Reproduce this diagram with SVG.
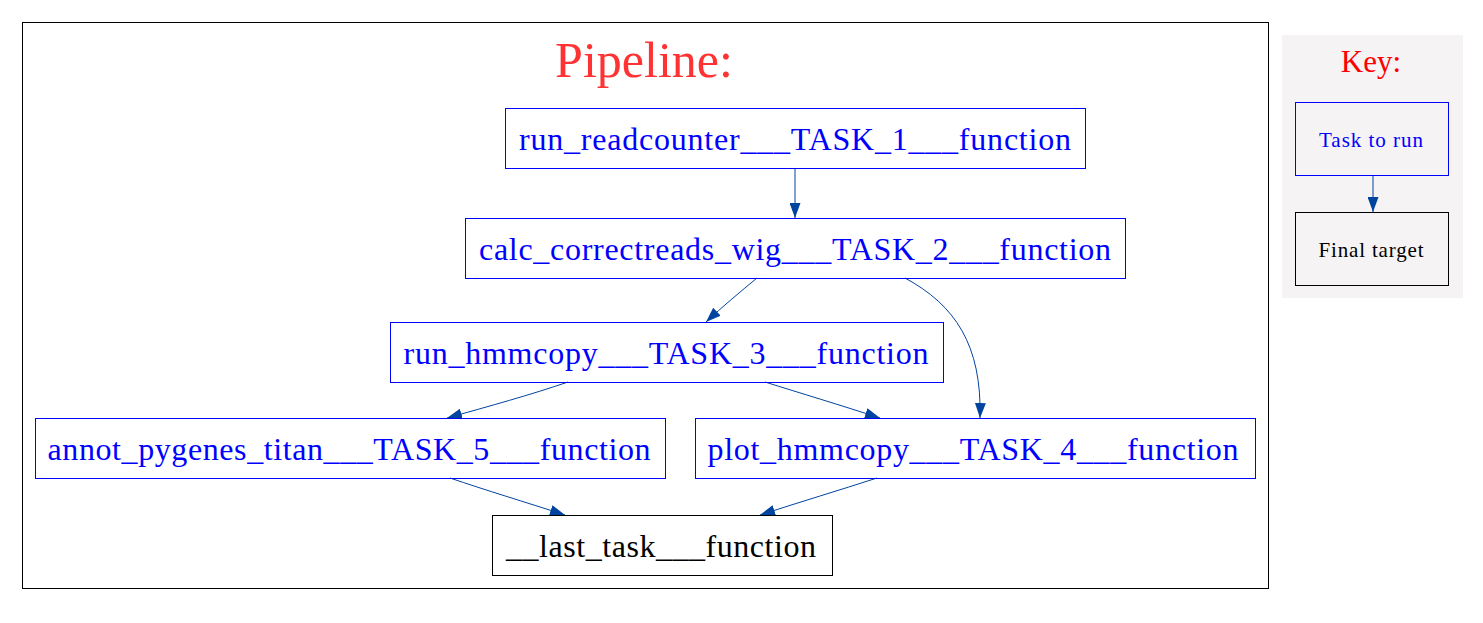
<svg xmlns="http://www.w3.org/2000/svg" width="1483" height="623" viewBox="0 0 1483 623">
<style>
.task rect{fill:none;stroke:#0000ff;stroke-width:1}
.task text{fill:#0000ff;font-family:"Liberation Serif","Times New Roman",serif;font-size:32px;text-anchor:middle}
.final rect{fill:none;stroke:#000;stroke-width:1}
.final text{fill:#000;font-family:"Liberation Serif","Times New Roman",serif;font-size:32px;text-anchor:middle}
.edge{fill:none;stroke:#0044a0;stroke-width:1;marker-end:url(#ah)}
.title{font-family:"Liberation Serif","Times New Roman",serif;text-anchor:middle}
</style>
<defs>
<marker id="ah" markerUnits="userSpaceOnUse" markerWidth="15" markerHeight="11" refX="15" refY="5.5" orient="auto">
<path d="M0,0 L15,5.5 L0,11 z" fill="#0044a0"/>
</marker>
</defs>
<rect width="1483" height="623" fill="#fff"/>
<g id="cluster-pipeline">
<rect x="22.5" y="22.5" width="1246" height="566" fill="none" stroke="#000" stroke-width="1"/>
<text class="title" x="644" y="77" font-size="50" fill="#ff3333">Pipeline:</text>
</g>
<g id="cluster-key">
<rect x="1282" y="35" width="181" height="263" fill="#f5f3f3"/>
<text class="title" x="1371" y="72" font-size="31" fill="#ff0000">Key:</text>
</g>
<g id="connectors">
<path class="edge" d="M795,168 L795,218"/>
<path class="edge" d="M757,278 C740,292 722,307 706,322"/>
<path class="edge" d="M905,278 C955,305 982,345 980,418"/>
<path class="edge" d="M568,382 C530,395 490,406 447,418"/>
<path class="edge" d="M765,382 C800,393 840,405 880,418"/>
<path class="edge" d="M450,478 C485,490 525,502 565,515"/>
<path class="edge" d="M877,478 C840,490 800,502 760,515"/>
<path class="edge" d="M1373,175 L1373,212"/>
</g>
<g id="task1" class="task">
<rect x="505.5" y="108.5" width="580" height="60"/>
<text x="795" y="150" textLength="552">run_readcounter___TASK_1___function</text>
</g>
<g id="task2" class="task">
<rect x="465.5" y="218.5" width="660" height="60"/>
<text x="795" y="260" textLength="632">calc_correctreads_wig___TASK_2___function</text>
</g>
<g id="task3" class="task">
<rect x="390.5" y="322.5" width="553" height="60"/>
<text x="666" y="364" textLength="525">run_hmmcopy___TASK_3___function</text>
</g>
<g id="task5" class="task">
<rect x="35.5" y="418.5" width="630" height="60"/>
<text x="349" y="460" textLength="603">annot_pygenes_titan___TASK_5___function</text>
</g>
<g id="task4" class="task">
<rect x="695.5" y="418.5" width="560" height="60"/>
<text x="973" y="460" textLength="531">plot_hmmcopy___TASK_4___function</text>
</g>
<g id="last_task" class="final">
<rect x="492.5" y="515.5" width="340" height="60"/>
<text x="661" y="557" textLength="310">__last_task___function</text>
</g>
<g id="key-task" class="task">
<rect x="1295.5" y="102.5" width="153" height="73"/>
<text x="1371" y="147" style="font-size:21px" textLength="104">Task to run</text>
</g>
<g id="key-final" class="final">
<rect x="1295.5" y="212.5" width="153" height="73"/>
<text x="1371" y="257" style="font-size:21px" textLength="105">Final target</text>
</g>
</svg>
